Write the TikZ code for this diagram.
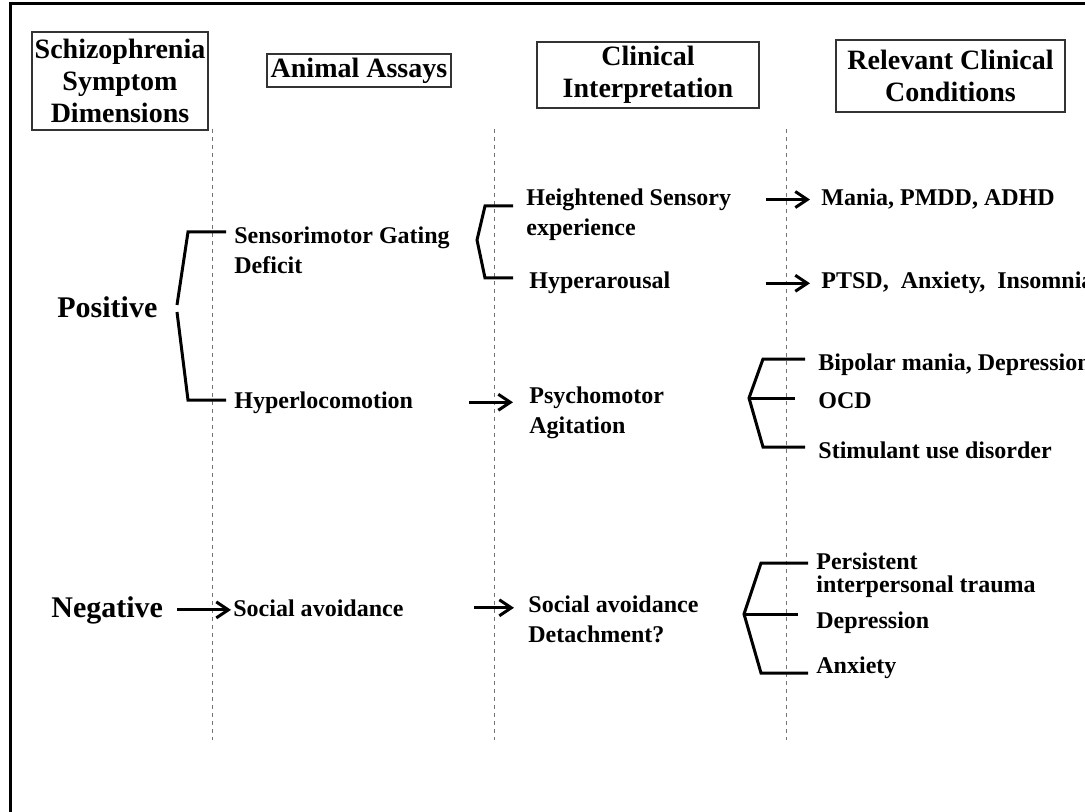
\documentclass[tikz,border=0pt]{standalone}
\usepackage{fontspec}
\setmainfont{Liberation Serif}
\usetikzlibrary{arrows.meta}

\begin{document}
\begin{tikzpicture}[x=0.5pt, y=-0.5pt, >={Straight Barb[length=6pt,width=8pt]},
    every node/.style={inner sep=0pt, align=left, font=\fontsize{12}{15}\selectfont\bfseries},
    head/.style={draw=black!80, line width=0.7pt, align=center, font=\fontsize{14}{16}\selectfont\bfseries},
    dim/.style={font=\fontsize{15}{18}\selectfont\bfseries},
    guide/.style={dash pattern=on 2pt off 2pt, black!55, line width=0.5pt},
    brk/.style={line width=1.5pt},
    arr/.style={->, line width=1.5pt}]
  \useasboundingbox (0,0) rectangle (1085,812);

  % frame
  \draw[line width=1.5pt] (10,812) -- (10,4) -- (1090,4);

  % column heads
  \node[head, minimum width=88pt, minimum height=49pt] (hdim) at (120,81) {Schizophrenia\\Symptom\\Dimensions};
  \node[head, minimum width=92pt, minimum height=16.5pt] (hassay) at (359,70.5) {Animal Assays};
  \node[head, minimum width=111pt, minimum height=33pt] (hint) at (648,75) {Clinical\\Interpretation};
  \node[head, minimum width=114.5pt, minimum height=36pt] (hcond) at (950.5,76) {Relevant Clinical\\Conditions};

  % column guides
  \foreach \x in {212,494,786}
    \draw[guide] (\x,129) -- (\x,740);

  % symptom dimensions
  \node[dim, anchor=base west] (pos) at (57,317) {Positive};
  \node[dim, anchor=base west] (neg) at (51,617) {Negative};

  % animal assays (base = last line)
  \node[anchor=base west] (sgd) at (234,274) {Sensorimotor Gating\\Deficit};
  \node[anchor=base west] (hyploc) at (234,408) {Hyperlocomotion};
  \node[anchor=base west] (socav) at (233,616) {Social avoidance};

  % clinical interpretation
  \node[anchor=base west] (hse) at (526,236) {Heightened Sensory\\experience};
  \node[anchor=base west] (hyar) at (529,289) {Hyperarousal};
  \node[anchor=base west] (psy) at (529,433) {Psychomotor\\Agitation};
  \node[anchor=base west] (sad) at (528,642) {Social avoidance\\Detachment?};

  % clinical conditions
  \node[anchor=base west] (mania) at (821,206) {Mania, PMDD, ADHD};
  \node[anchor=base west] (ptsd) at (821,289) {PTSD,~ Anxiety,~ Insomnia};
  \node[anchor=base west] (bip) at (818,370) {Bipolar mania, Depression};
  \node[anchor=base west] (ocd) at (818,408) {OCD};
  \node[anchor=base west] (stim) at (818,458) {Stimulant use disorder};
  \node[anchor=base west, font=\fontsize{12}{11.5}\selectfont\bfseries] (pers) at (816,592) {Persistent\\interpersonal trauma};
  \node[anchor=base west] (dep) at (816,628) {Depression};
  \node[anchor=base west] (anx) at (816,673) {Anxiety};

  % brackets
  \coordinate (kpos) at (177,308);
  \draw[brk] (226,232) -- (188,232) -- ([yshift=1.5pt]kpos);
  \draw[brk] ([yshift=-2pt]kpos) -- (188,400) -- (226,400);
  \coordinate (ksgd) at (477,240);
  \draw[brk] (513,206) -- (485,206) -- (ksgd) -- (485,278) -- (513,278);
  \coordinate (kpsy) at (749,398);
  \draw[brk] (805,359) -- (763,359) -- (kpsy) -- (763,447) -- (805,447);
  \draw[brk] (kpsy) -- (795,398);
  \coordinate (ksad) at (744,614);
  \draw[brk] (808,563) -- (761,563) -- (ksad) -- (761,673) -- (808,673);
  \draw[brk] (ksad) -- (798,614);

  % arrows
  \draw[arr, shorten <=7pt, shorten >=1pt] (neg.east) -- (neg.east -| socav.west);
  \draw[arr, shorten <=35pt, shorten >=7pt] (socav.east) -- (socav.east -| sad.west);
  \draw[arr, shorten <=28pt, shorten >=8pt] (hyploc.east) -- (hyploc.east -| psy.west);
  \draw[arr, shorten <=17.5pt, shorten >=5.5pt] (hse.east |- mania.west) -- (mania.west);
  \draw[arr, shorten <=47.5pt, shorten >=5.5pt] (hyar.east) -- (hyar.east -| ptsd.west);
\end{tikzpicture}
\end{document}
